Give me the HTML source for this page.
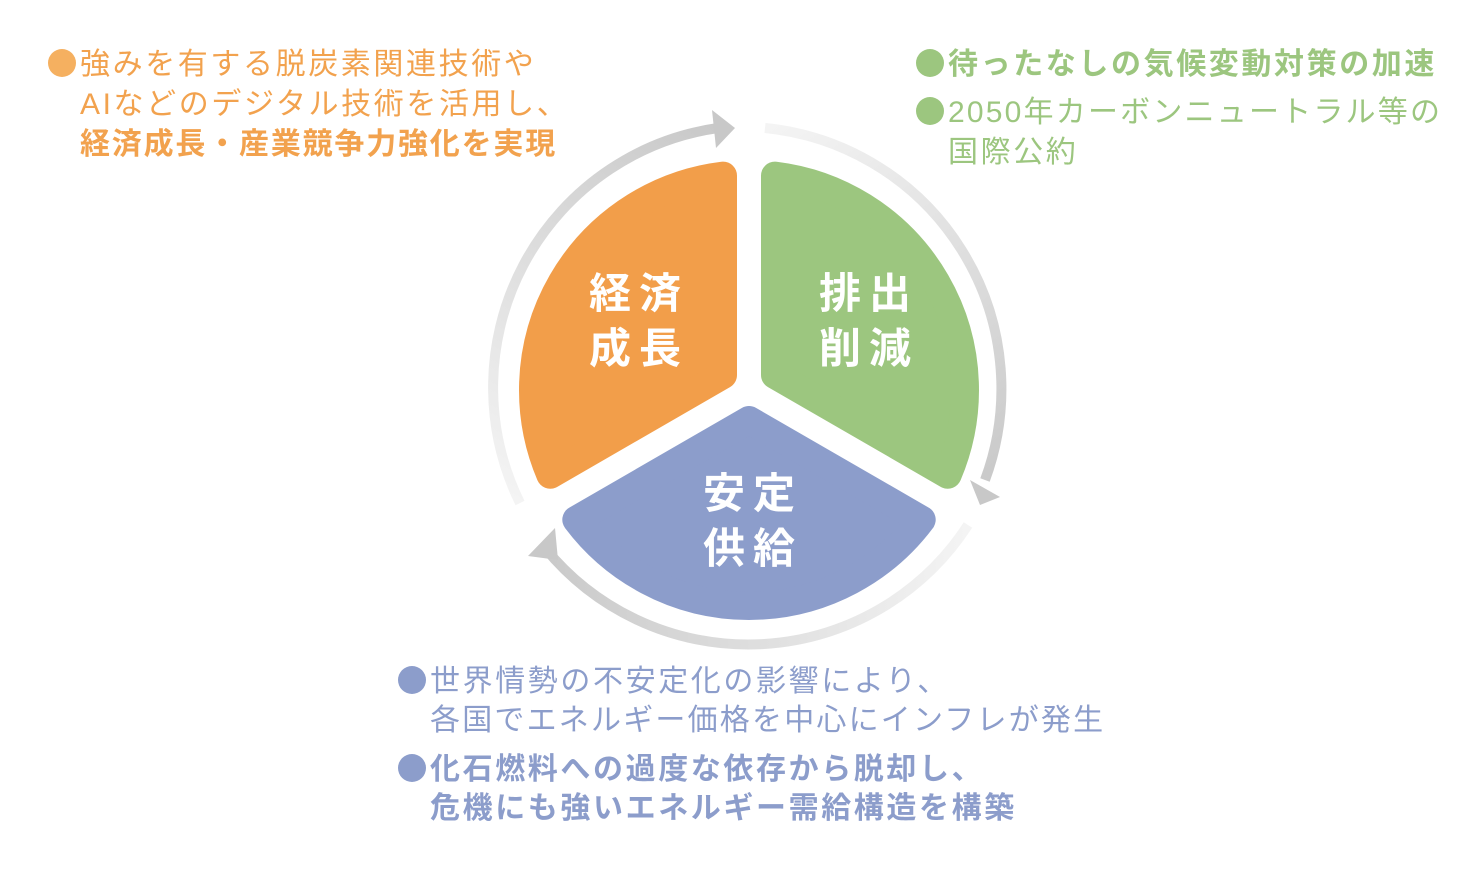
<!DOCTYPE html>
<html><head><meta charset="utf-8"><style>
body{margin:0;width:1484px;height:870px;background:#fff;position:relative;overflow:hidden;font-family:"Liberation Sans","Noto Sans CJK JP",sans-serif}
.t{position:absolute;font-size:30px;letter-spacing:2.6px;line-height:40px;white-space:nowrap}
.o{color:#F2A24E}.g{color:#9CC67F}.b{color:#8C9DCB}
.dot{display:inline-block;width:28px;height:28px;border-radius:50%;vertical-align:-3px;margin-right:4px}
.bo{font-weight:bold}
</style></head><body>
<svg width="1484" height="870" style="position:absolute;left:0;top:0">
<defs>
<linearGradient id="g1" x1="520" y1="505" x2="735" y2="128" gradientUnits="userSpaceOnUse"><stop offset="0" stop-color="#f4f4f4"/><stop offset="1" stop-color="#c8c8c8"/></linearGradient>
<linearGradient id="g2" x1="765" y1="128" x2="990" y2="495" gradientUnits="userSpaceOnUse"><stop offset="0" stop-color="#f4f4f4"/><stop offset="1" stop-color="#c8c8c8"/></linearGradient>
<linearGradient id="g3" x1="968" y1="525" x2="530" y2="545" gradientUnits="userSpaceOnUse"><stop offset="0" stop-color="#f4f4f4"/><stop offset="1" stop-color="#c8c8c8"/></linearGradient>
</defs>
<path d="M520,503 A262,262 0 0 1 718,128" fill="none" stroke="url(#g1)" stroke-width="10"/>
<polygon points="735,128 712,110 716,148" fill="#c8c8c8"/>
<path d="M765,128 A262,262 0 0 1 985,480" fill="none" stroke="url(#g2)" stroke-width="10"/>
<polygon points="1000,497 970,480 980,505" fill="#c8c8c8"/>
<path d="M968,525 A262,262 0 0 1 545,548" fill="none" stroke="url(#g3)" stroke-width="10"/>
<polygon points="528,556 555,528 558,560" fill="#c8c8c8"/>
<g stroke-width="28" stroke-linejoin="round">
<path d="M723,375 L723,175.6 A216,216 0 0 0 550.3,474.7 Z" fill="#F29E4A" stroke="#F29E4A"/>
<path d="M775,375 L775,175.6 A216,216 0 0 1 947.7,474.7 Z" fill="#9CC67F" stroke="#9CC67F"/>
<path d="M749,420 L921.7,519.7 A216,216 0 0 1 576.3,519.7 Z" fill="#8C9DCB" stroke="#8C9DCB"/>
</g>
<g fill="#fff" font-weight="bold" font-size="42" text-anchor="middle" letter-spacing="8" font-family="Liberation Sans,Noto Sans CJK JP,sans-serif">
<text x="639" y="308">経済</text><text x="639" y="363">成長</text>
<text x="869" y="308">排出</text><text x="869" y="363">削減</text>
<text x="753" y="508">安定</text><text x="753" y="563">供給</text>
</g>
</svg>
<div class="t o" style="left:48px;top:45px"><span class="dot" style="background:#F5B060"></span>強みを有する脱炭素関連技術や</div>
<div class="t o" style="left:80px;top:85px">AIなどのデジタル技術を活用し、</div>
<div class="t o bo" style="left:80px;top:125px;letter-spacing:1.8px">経済成長・産業競争力強化を実現</div>
<div class="t g bo" style="left:916px;top:45px"><span class="dot" style="background:#9CC67F"></span>待ったなしの気候変動対策の加速</div>
<div class="t g" style="left:916px;top:93px;letter-spacing:2.2px"><span class="dot" style="background:#9CC67F"></span>2050年カーボンニュートラル等の</div>
<div class="t g" style="left:948px;top:133px">国際公約</div>
<div class="t b" style="left:398px;top:662px"><span class="dot" style="background:#8C9DCB"></span>世界情勢の不安定化の影響により、</div>
<div class="t b" style="left:430px;top:701px;letter-spacing:2.2px">各国でエネルギー価格を中心にインフレが発生</div>
<div class="t b bo" style="left:398px;top:750px"><span class="dot" style="background:#8C9DCB"></span>化石燃料への過度な依存から脱却し、</div>
<div class="t b bo" style="left:430px;top:789px">危機にも強いエネルギー需給構造を構築</div>
</body></html>
